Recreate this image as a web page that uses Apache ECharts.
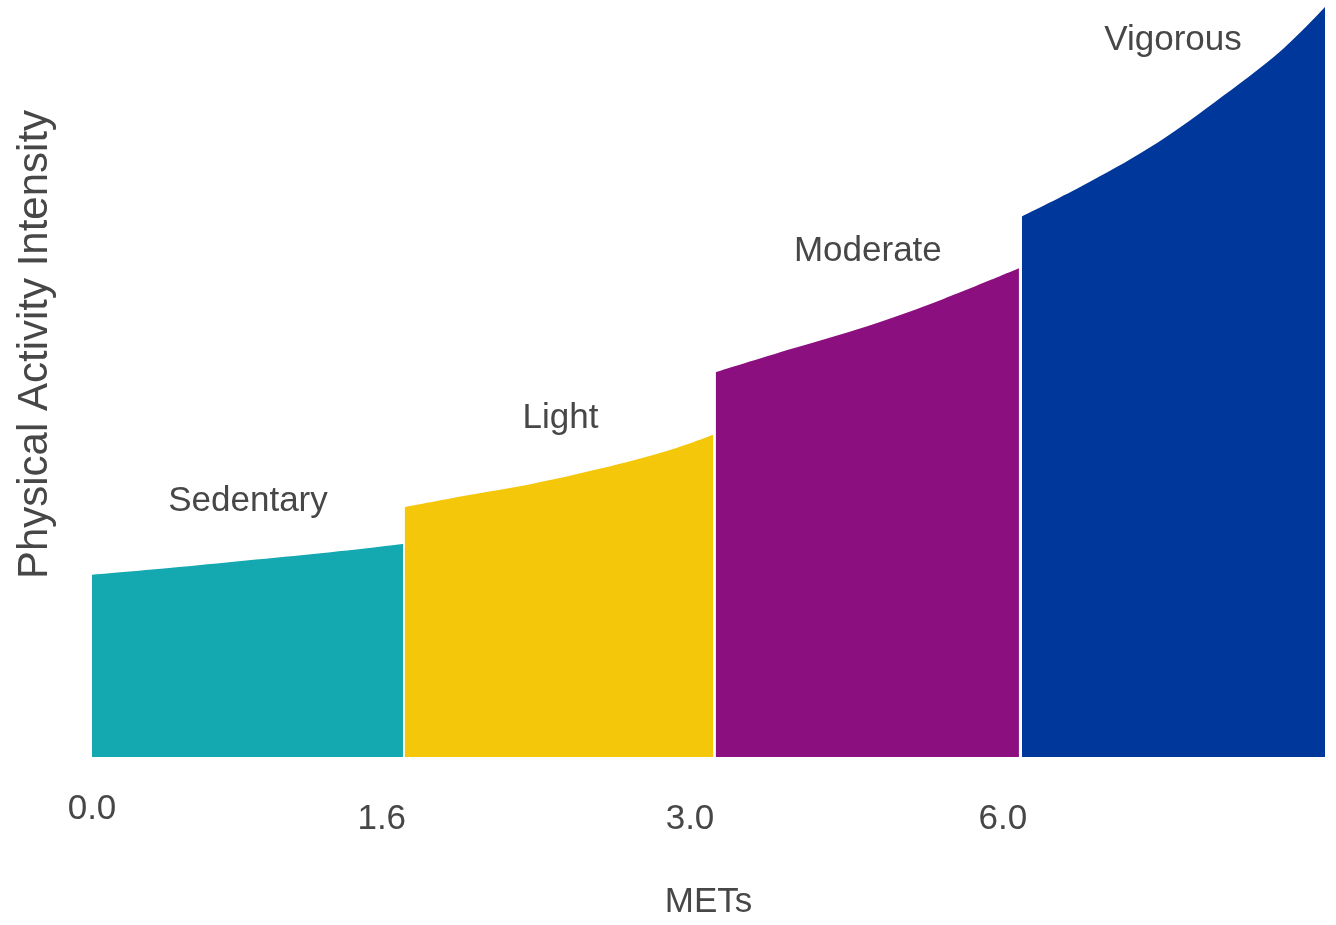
<!DOCTYPE html>
<html>
<head>
<meta charset="utf-8">
<script src="https://cdn.jsdelivr.net/npm/echarts@6/dist/echarts.min.js"></script>
<style>html,body{margin:0;padding:0;background:#fff}#c{width:1336px;height:925px}</style>
</head>
<body>
<div id="c"></div>
<script>
// Categories (intensity zones)
const categories = ['Sedentary', 'Light', 'Moderate', 'Vigorous'];
// MET tick labels
const tickLabels = ['0.0', '1.6', '3.0', '6.0'];
// Zone x positions (zone units along the axis) and top-edge intensity values
const sedentaryX = [0, 0.25, 0.5, 0.75, 1.009];
const sedentaryY = [24.2, 25.1, 26.1, 27.1, 28.3];
const lightX = [1.015, 1.21, 1.43, 1.65, 1.87, 2.015];
const lightY = [33.2, 34.7, 36.3, 38.3, 40.7, 42.8];
const moderateX = [2.024, 2.27, 2.515, 2.76, 3.007];
const moderateY = [51.1, 54.2, 57.2, 60.8, 64.9];
const vigorousX = [3.017, 3.21, 3.43, 3.64, 3.86, 4.0];
const vigorousY = [71.8, 75.8, 80.9, 86.9, 93.9, 99.6];
// Where MET tick labels sit along the zone axis
const tickPositions = [0, 0.94, 1.94, 2.955];

const colors = ['#14A8B1', '#F5C70A', '#8C0F80', '#00379A'];
const labelPos = [[0.506, 33.9], [1.52, 45.0], [2.517, 67.2], [3.507, 95.2]];
const xs = [sedentaryX, lightX, moderateX, vigorousX];
const ys = [sedentaryY, lightY, moderateY, vigorousY];
const FONT = '"Liberation Sans", Arial, sans-serif';
const TXT = '#474747';

const series = categories.map((name, i) => ({
  type: 'line',
  name: name,
  data: xs[i].map((x, j) => [x, ys[i][j]]),
  smooth: 0.35,
  showSymbol: false,
  silent: true,
  lineStyle: { width: 0, color: colors[i] },
  itemStyle: { color: colors[i] },
  areaStyle: { color: colors[i], opacity: 1 },
  markPoint: {
    silent: true,
    symbol: 'rect',
    symbolSize: 1,
    itemStyle: { color: 'rgba(0,0,0,0)' },
    label: {
      show: true, position: 'inside', formatter: '{b}',
      fontFamily: FONT, fontSize: 35, color: TXT
    },
    data: [{ name: name, coord: labelPos[i] }]
  }
}));

const chart = echarts.init(document.getElementById('c'));
chart.setOption({
  backgroundColor: '#fff',
  animation: false,
  grid: { left: 92, right: 11, top: 4, bottom: 166 },
  xAxis: {
    type: 'value', min: 0, max: 4,
    name: 'METs', nameLocation: 'middle', nameGap: 128,
    nameTextStyle: { fontFamily: FONT, fontSize: 35, color: TXT },
    axisLine: { show: false }, axisTick: { show: false }, splitLine: { show: false },
    axisLabel: {
      customValues: tickPositions,
      margin: 34,
      formatter: function (v) {
        let idx = 0, best = 1e9;
        tickPositions.forEach((p, k) => { if (Math.abs(p - v) < best) { best = Math.abs(p - v); idx = k; } });
        return idx === 0 ? '{a|' + tickLabels[idx] + '}' : '{b|' + tickLabels[idx] + '}';
      },
      rich: {
        a: { fontFamily: FONT, fontSize: 35, color: TXT, lineHeight: 36 },
        b: { fontFamily: FONT, fontSize: 35, color: TXT, lineHeight: 56 }
      }
    }
  },
  yAxis: {
    type: 'value', min: 0, max: 100,
    name: 'Physical Activity Intensity', nameLocation: 'middle', nameGap: 36,
    nameTextStyle: { fontFamily: FONT, fontSize: 42, color: TXT, padding: [0, 0, 0, 72] },
    axisLine: { show: false }, axisTick: { show: false }, splitLine: { show: false },
    axisLabel: { show: false }
  },
  series: series
});
</script>
</body>
</html>
